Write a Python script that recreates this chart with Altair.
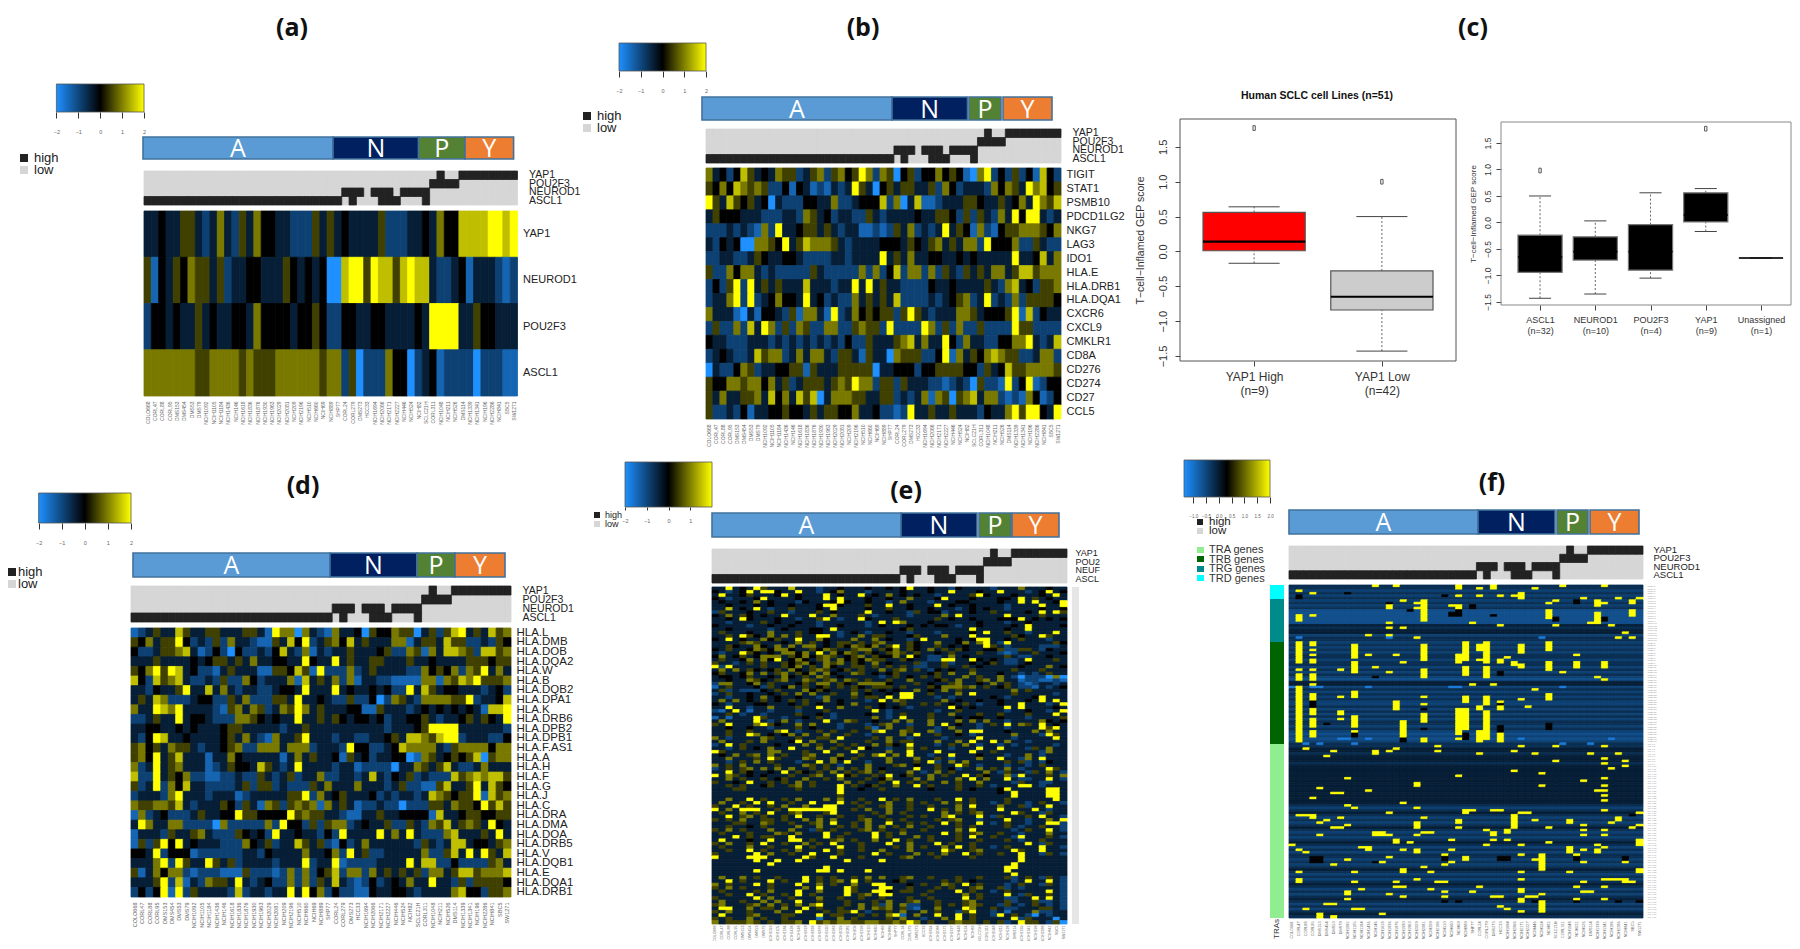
import altair as alt
import pandas as pd

alt.data_transformers.disable_max_rows()

W, H = 1784, 933
LEVEL = {'0': -2.0, '1': -1.4, 'b': -1.1, '2': -0.9, 'a': -0.65, '3': -0.42, '4': 0.0,
         '5': 0.5, '6': 0.95, '7': 1.5, '8': 2.0}

SAMPLES = ["COLO668","CORL47","CORL88","CORL95","DMS153","DMS454","DMS53","DMS79","NCIH1092","NCIH1105",
           "NCIH1184","NCIH1436","NCIH146","NCIH1618","NCIH1836","NCIH1876","NCIH1930","NCIH1963","NCIH2029","NCIH2081",
           "NCIH209","NCIH2196","NCIH510","NCIH660","NCIH69","NCIH889","SHP77","CORL24","CORL279","DMS273",
           "HCC33","NCIH1694","NCIH2066","NCIH2171","NCIH2227","NCIH446","NCIH524","NCIH82","SCLC21H","CORL311",
           "NCIH1048","NCIH211","NCIH526","DMS114","NCIH1339","NCIH1341","NCIH196","NCIH2286","NCIH841","SBC5","SW1271"]

STATUS_NAMES = ["YAP1", "POU2F3", "NEUROD1", "ASCL1"]
STATUS_HIGH = {"YAP1": [40,43,44,45,46,47,48,49,50],
               "POU2F3": [39,40,41,42],
               "NEUROD1": [27,28,29,31,32,33,35,36,37,38],
               "ASCL1": list(range(0,27)) + [28,32,33,34,38]}

A_NAMES = ["YAP1", "NEUROD1", "POU2F3", "ASCL1"]
A_ROWS = [
 "3343355323 6325364433 2225353433 3352223343 6447777887 8",
 "5143546553 5233443335 4343400788 5877578773 2234133321 2",
 "2443433534 3344364444 3445422443 3443333438 8883354433 3",
 "6666666556 6665655566 6666566250 2226440234 1222202221 11",
]

B_NAMES = ["TIGIT","STAT1","PSMB10","PDCD1LG2","NKG7","LAG3","IDO1","HLA.E","HLA.DRB1","HLA.DQA1","CXCR6","CXCL9",
           "CMKLR1","CD8A","CD276","CD274","CD27","CCL5"]
B_ROWS = [
 "6342475343 6552356256 4586265045 2446454106 8242524174 2",
 "5464765652 2414312132 3853045355 3352642333 2646538674 5",
 "8537545340 3222443362 2344472603 7112 33355 4335346386 577",
 "3544433322 2332653423 3225323333 4335 54252 5326384883 2 3 6",
 "2223232162 8334553532 3311212 5 3 6 2 3 2 3 8 3 5 4 1 6 2 1 4 5 5 6 6 6 5 4 6 7 6 6",
 "3243400665 4835766653 2333344435 4356353 6 6 2 8 4 4 4 6 2 2 5 3 2 2 0 0 5 3 6 5 6 5",
 "2233223 5 4 3 3 4 4 3 2 2 2 2 3 3 2 3 3 3 3 8 3 5 3 6 3 3 4 4 3 3 4 3 4 3 3 3 3 3 8 3 3 4 7 3 6 7 3 4 3 3",
 "5 2 2 6 4 6 6 3 2 3 2 2 2 2 2 5 3 2 2 2 2 2 6 2 6 2 4 7 2 6 6 2 6 2 5 3 2 5 3 5 3 6 6 3 5 7 7 5 6 6 6 7",
 "2 4 2 5 8 2 8 3 5 3 5 3 3 3 7 3 3 3 2 3 3 8 3 8 3 5 3 3 2 2 2 2 4 3 3 4 3 3 3 3 5 3 2 6 7 3 4 2 5 5 6",
 "2 3 3 6 8 2 8 2 3 4 6 4 4 3 8 3 4 2 3 2 2 6 3 5 3 5 3 7 2 2 2 2 3 2 3 4 5 6 2 3 8 2 3 2 6 2 5 5 5 5 4",
 "6 3 3 3 1 0 3 1 4 4 3 2 5 1 6 6 3 1 8 2 3 6 4 5 4 5 5 2 5 8 5 3 2 3 3 3 6 6 5 3 4 4 4 5 8 1 7 2 4 3 3",
 "2 5 2 2 6 2 7 3 8 6 2 5 2 6 5 2 2 6 6 2 2 5 6 5 5 2 8 2 2 2 2 8 6 2 5 2 6 2 2 5 2 2 2 2 8 5 5 2 2 2 2",
 "4 3 3 2 2 2 3 3 3 2 3 2 3 2 3 2 3 2 3 2 4 2 2 5 3 3 3 5 6 7 3 6 3 3 8 4 2 6 3 3 2 2 4 4 6 6 8 3 2 3 7",
 "2 3 4 3 2 2 3 7 5 6 6 2 3 6 3 6 6 3 2 5 5 3 1 5 3 3 0 6 5 5 5 2 2 4 8 1 6 3 5 4 6 7 6 5 5 2 2 3 6 6 2",
 "0 3 2 2 4 6 5 2 3 3 4 4 5 5 1 5 3 3 3 5 5 5 5 5 0 3 3 4 4 4 2 4 4 5 5 5 5 4 4 2 5 3 4 7 5 5 6 6 6 6 5",
 "5 4 4 6 6 5 6 6 4 6 3 5 2 3 5 5 5 3 5 6 5 8 6 6 2 5 5 2 5 3 3 3 2 2 1 2 3 2 0 5 2 2 1 8 2 4 8 1 2 4 4",
 "5 3 6 3 3 5 5 6 3 7 4 6 3 7 5 7 0 3 6 6 6 5 5 3 3 5 5 2 3 2 3 6 1 6 5 0 5 6 7 3 6 6 2 1 2 1 6 4 1 2 4",
 "5 2 2 3 2 4 1 3 3 4 4 5 4 4 3 5 3 5 5 4 4 6 3 3 4 2 2 1 2 8 3 3 5 3 3 5 3 3 3 2 4 3 3 6 8 5 8 8 4 3 8",
]

D_NAMES = ["HLA.L","HLA.DMB","HLA.DOB","HLA.DQA2","HLA.W","HLA.B","HLA.DQB2","HLA.DPA1","HLA.K","HLA.DRB6","HLA.DPB2",
           "HLA.DPB1","HLA.F.AS1","HLA.A","HLA.H","HLA.F","HLA.G","HLA.J","HLA.C","HLA.DRA","HLA.DMA","HLA.DOA",
           "HLA.DRB5","HLA.V","HLA.DQB1","HLA.E","HLA.DQA1","HLA.DRB1"]
D_ROWS = [
 "1235337533 5533355318 6606321633 4054465503 5257835375 6",
 "5463558423 2526332115 3748235647 3533366135 5375522325 4",
 "4223556731 2420422324 7326132335 3334522651 6377652775 6",
 "3335333343 4553536334 4338433835 3355333533 4333355545 5",
 "5468587342 2135333115 5475182226 2353333226 4546265836 3",
 "7427567322 3252264233 3617353626 1332211116 6165768555 6",
 "3324335833 7363233223 4438333834 3343422837 5344333234 2",
 "3537622234 4225362225 5383343225 2240265326 6665582334 7",
 "6338768333 3215636523 6586353334 4115333234 3434343177 8",
 "2235338344 3222665434 3383353543 4434233445 3233453543 8",
 "3344334343 3345533333 2335333333 3333233345 8888333333 2",
 "3248733433 3345363216 3358333233 2233453776 5788233322 4",
 "5645365532 3345622666 3666233328 4422347666 6325666646 6",
 "5648357333 1336433333 1363533415 3423344016 5345457056 6",
 "6238356333 1235443 7 5 3 2 3 8 3 3 3 3 2 3 3 1 2 2 2 2 0 3 3 6 5 3 5 7 3 2 2 3 6",
 "7228354622 1122 3 2 2 5 3 2 3 5 2 3 3 6 2 2 3 3 2 3 7 3 2 4 3 5 2 3 2 2 2 7 5 6 7 6 7 7 5",
 "5238264733 2222 3 5 2 5 5 2 3 2 2 2 5 3 6 3 3 3 6 3 3 3 2 3 5 2 2 1 1 5 7 3 3 5 8 3 7 5 4 7 5",
 "2333268333 2333 1 2 3 3 3 3 3 5 5 8 2 6 3 4 5 3 3 3 4 2 3 2 3 3 2 3 7 6 5 4 5 5 8 1 7 5 6",
 "6556657 3 2 3 3 3 5 4 2 5 3 1 6 5 2 5 6 5 6 1 6 3 5 3 1 2 2 3 2 2 0 2 2 2 5 5 3 6 5 5 4 8 5 7 5 6",
 "1623 4 2 2 2 3 5 3 3 4 4 8 5 5 4 4 4 4 8 5 6 5 5 3 3 2 1 1 3 3 5 3 3 4 4 4 4 1 7 3 3 4 5 5 4 4 5 5 8",
 "3 8 6 3 3 6 6 2 2 2 2 0 6 2 2 2 2 2 6 2 8 4 4 2 5 2 5 6 6 2 3 4 3 3 5 2 2 5 3 2 6 5 7 3 5 6 5 3 8 4",
 "1 3 3 3 2 5 3 3 5 6 3 2 2 2 5 4 3 4 2 8 3 3 4 3 3 2 4 2 8 3 3 3 3 8 3 6 3 8 3 2 2 2 6 7 3 3 3 5 3 8 3",
 "1 5 2 5 8 4 8 3 4 3 3 3 2 2 2 6 4 3 5 2 3 3 7 5 3 5 2 1 4 2 3 6 3 3 3 3 3 3 2 5 3 2 3 7 7 3 4 4 3 5 6",
 "4 4 3 8 2 4 4 4 1 2 2 2 2 2 2 3 3 2 4 3 3 3 3 6 3 3 4 6 2 8 3 5 2 2 3 3 3 3 3 6 2 2 5 7 3 8 3 8 5 3 7",
 "3 3 3 6 8 2 8 5 3 3 8 5 3 5 2 3 3 3 3 2 3 3 3 8 2 3 3 8 1 2 2 2 2 3 3 3 3 8 3 7 7 2 2 4 2 2 2 2 5 6 3",
 "5 1 3 6 4 6 6 2 1 2 2 2 1 1 1 5 2 2 2 1 2 6 2 6 2 4 5 7 2 6 6 2 6 3 5 3 5 3 5 2 6 6 3 5 7 7 5 6 6 6 7",
 "3 3 3 5 8 2 7 1 3 2 6 5 5 3 8 3 2 3 4 2 2 6 2 6 2 5 3 7 3 2 1 2 4 2 3 4 3 6 3 3 8 3 3 2 5 2 5 5 5 5 4",
 "2 4 2 4 8 1 8 2 5 3 3 3 3 2 7 2 3 3 2 3 3 8 3 8 4 6 2 4 2 2 1 1 4 3 3 4 4 3 2 3 3 3 3 6 7 4 4 2 5 5 6",
]

E_ROWS = [
 "3383438533 3733323343 3343343483 3433243333 2333633343 3",
 "4323483884 3383323463 3323333433 3433833343 3833323483 4",
 "3833453334 8343338343 3834363434 3323333584 3334333438 3",
 "4323334833 3343338383 3343343363 3348333433 3443835343 3",
 "3433436343 3324333484 3343323633 3233344333 3433838334 8",
 "3343334343 3433348843 3353383343 3383433433 3323333833 8",
 "3373438323 3533343833 3343353343 3433323434 3323333433 4",
 "2533343353 3233353433 3383343325 3442333433 5333343838 5",
 "4363543433 8333833633 3532333323 3336383333 3383333533 3",
 "3343843334 3323358323 3843335333 3353433433 3444834343 4",
 "3323333534 3343323333 3323838633 3433333343 3323343333 3",
 "4333323343 3433323343 3323433343 4344323343 3334383333 4",
 "3343333323 4333443833 3333333453 3333333 8 3 3 3 3 4 3 3 8 3 3 3 3 3",
 "3533343363 3353443323 4323343323 3323333438 3353323338 3",
 "3353854363 6353388323 3635533345 3336333833 3335433853",
 "4383433645 3383364333 6336343323 8333343488 3343533323 3",
 "3333565333 4363534355 3535633354 3363346368 3283333335 4",
 "3354336436 3636634354 6546358354 3353434338 5323333222 3",
 "4353346546 6433546533 5663546354 3635354334 4522553243 3",
 "3233854343 6646383646 5354356535 3343533353 3212335333 4",
 "4634534666 3546456534 5635446384 3223634333 3353223343 3",
 "3533463648 3464356364 5465533543 3228833843 4322383335 3",
 "5332353533 5456436563 5436343335 2335233434 5322343333 3",
 "8283333533 5463536433 5535353532 2335335343 3333433363 4",
 "3636354345 3643565345 3533635635 3243433533 3335333533 3",
 "4533463635 6354636433 6534345333 3453633633 3433232353 3",
 "3443453343 6435365343 3333235343 5353336353 3632022206 0",
 "3343365435 6336535636 5353353363 3345363356 3633122112 1",
 "2663346353 3345366354 3666643335 3433563343 6353212332 3",
 "1353334253 4635345353 5435553533 3546665635 3453221323 4",
 "3523222435 3336454333 5353434336 3436353333 3336353333 3",
 "2353343343 5363633533 6343343883 3533363833 3335333332",
 "3323343634 3343326333 5355383883 3323233333 4323334833 3",
 "3636343534 3535336343 3323836533 3336343343 3433343838 3",
 "4323334433 3435343343 6333433533 5353435323 3433833323 8",
 "3383323363 3353383363 3353434323 3333843433 3383833334 3",
 "2138313323 3323335333 3338323333 3323353333 3323343323 8",
 "3353233233 3353343233 3343323533 3533633353 3533353338 3",
 "1313338533 2334353233 3336323833 3533343443 3433323333 5",
 "3633338323 6323338336 5334336363 3633363636 3323333643 4",
 "5383336854 3363633323 3323563323 3638343323 5383653834 3",
 "3343343323 3353433323 3351363353 3323633323 3323333858 3",
 "3353353336 8323353533 5336833653 3623363883 3343336363 3",
 "3353386343 4636336335 3323333638 3353343233 3336333285 3",
 "6323333653 3353355383 3335363323 3332333383 3332333338 3",
 "3633353633 3483633633 3353363553 3363363833 8363323333 3",
 "2383533334 3336353353 5336354383 3323536323 3232333332 3",
 "3323534363 3833363535 3843323363 5333233383 3833325363 3",
 "8533333366 3335338333 8333363383 3383333833 5333333263",
 "3436356363 5335633363 3536836383 3233833343 3323363233 3",
 "3363335385 3336533643 5333363336 3353233363 3833263833 3",
 "3323536353 3323383638 3323363335 3823636333 3353523243 3",
 "6353633335 3336535323 3363335634 3353385323 3323323533 3",
 "2353563636 3633535363 5363433338 3353423363 5363233385 3",
 "3383543343 8354353635 3563533363 2363533336 3253325363 2",
 "8365343433 3533563384 5335383453 3635338354 3362833353 6",
 "3363533534 5336335363 3353463336 3633363836 3383223383 2",
 "5334383353 5363533336 3533538353 5336353363 3332533223 3",
 "3353533453 3563533383 5345336338 3533353353 2333883233 3",
 "3335533333 3353333383 3433533333 3433353433 3483333388 3",
 "3333333333 3333333383 3333333333 3333333333 3438333388 3",
 "3333333333 3333333353 3333333333 3333333333 3338333388 3",
 "3363383533 5363336363 3533835363 3353383533 3353333338 3",
 "3633538383 3533833383 5353363353 5336353533 2353323533 2",
 "5338353353 6336338833 3533563353 3533363833 3633523383 3",
 "8363888335 3888888833 5363363353 3835363533 3833338323 3",
 "3533635383 3563335833 3335363533 3336353563 3338533253 3",
 "3383563533 5383353353 3533533353 5336833383 2533353833 2",
 "5353633553 5336363633 3563353533 3353563323 3383323363 8",
 "3335533653 3533563833 5363383353 5338353383 2353323388 2",
 "3353343533 3363363353 5363635363 3533353533 3353233533 2",
 "5363533363 3633253533 3563533533 5333363833 3332353383 2",
 "3533353336 5363338335 3338353633 3338353563 3533233363 3",
 "3338353553 3833338353 3338353336 3533353833 5332833353 2",
 "3833343383 3883533563 5336338353 3533353353 3353233533 3",
 "5363353833 5336353833 3533383363 3383533533 3333383253 3",
 "3533363353 3383533383 3533335363 5336383533 2353333833 2",
 "3353383533 5363338353 3533633363 3338533563 3338533833 3",
 "5333338363 3533833353 3338353336 3536338353 3533833253 2",
 "8333388833 3338533833 3533333563 3353333533 3333833333 3",
 "3333338338 3383333338 3333833333 3333333333 3333833333 3",
 "3333333383 3333333333 3333333333 3333333333 3338333333 3",
 "3333333333 3333338333 3333333333 3333333333 3388333333 3",
 "3333338333 3333388383 3383333333 3333333333 3383333333 3",
 "3333333333 3333333333 3333333333 3333333333 3338333333 3",
 "3633635335 3338353533 5363633563 3533353353 3352353253 2",
 "3383533383 5338353563 8353334533 3335353433 3332383383 2",
 "6353338353 3383363533 6338833343 5336538353 3323533253 2",
 "5363533353 3336383338 5333883353 3353533563 3523233333 2",
 "3533335363 3383363338 5338843553 3533383533 2353333383 2",
 "3353383533 5383533338 3563883333 5333336353 3383253353 2",
 "5333338363 3533363353 3533533353 3533338353 3322338383 2",
 "3633533636 3383353335 3335363356 3353335633 3352335223 2",
 "5633356363 5363683335 3635263622 3353535653 3253235323 2",
 "3883363553 6338353353 3636563521 3363338633 5322333553 2",
 "5363353336 3383335355 8323353633 6353325833 2313336223 3",
 "3833356333 5533383553 3535368136 3383383533 2835320323 3",
 "5353363533 5333313363 5333353633 2336383533 3338253330 3",
 "6355565353 5563856566 5566556586 3533565535 3523855325 0",
]

F_BG = ("aa2a2a2a2a" "bbbbbb3a33" "2a" "a2a2a2aa2aa2a2a2b3" "3" "2a2a2a22a2a2a2aa2a2" "b2b" "2a"
        "a33a333a3333333333333333" "a2a3a2a2a3a2a2a3a2a2a" "a2a2a3a2a2a3a2a2a3a2a2a3a")
F_NAMES = [f"TRDV{i+1}" for i in range(6)] + [f"TRGV{i+1}" for i in range(17)] + \
          [f"TRBV{i+1}" for i in range(41)] + [f"TRAV{i+1}" for i in range(71)]
# (column, first row, last row)
F_BARS = [
 (12,0,0),(15,0,0),(24,0,1),(29,0,1),(39,0,0),(45,0,0),(1,2,2),(3,3,3),(24,4,4),(27,4,4),(30,4,4),(33,3,5),(32,4,4),(27,1,1),
 (35,1,1),(19,6,14),(44,6,8),(44,11,15),(14,8,9),(14,15,15),(14,17,17),(14,20,21),(37,10,13),(49,6,7),(49,10,12),(1,12,14),(3,12,12),
 (16,6,6),(18,7,7),(18,9,9),(23,8,8),(24,8,9),(38,6,6),(37,7,7),(45,7,7),(47,5,5),(50,5,5),(42,5,5),(26,15,15),(30,16,16),(38,16,16),
 (46,16,16),(16,17,17),(43,15,15),(48,19,19),(11,20,20),(47,21,21),(18,21,21),(49,21,21),
 (1,23,31),(1,34,34),(1,36,38),(1,41,63),(3,23,24),(3,26,26),(3,28,28),(3,30,31),(3,34,34),(3,36,38),(3,40,40),(3,44,46),(3,50,52),(3,54,57),(3,59,61),
 (9,24,29),(9,31,35),(9,43,45),(9,53,57),(9,59,59),(7,34,34),(7,45,45),(7,51,52),(7,54,54),(19,24,30),(19,34,37),(19,45,45),(19,48,48),(19,52,55),(19,62,63),
 (25,23,30),(25,33,36),(25,45,47),(25,50,58),(28,23,31),(28,33,37),(28,45,48),(28,51,62),(27,24,26),(27,30,30),(27,49,50),(27,59,63),(30,30,31),(30,47,50),(30,59,63),
 (32,31,32),(33,24,27),(33,32,33),(37,23,26),(37,31,34),(37,44,46),(41,31,33),(45,31,33),(45,38,38),(16,55,61),(15,28,28),(15,47,50),(11,28,28),(16,31,31),(31,29,29),(41,28,28),
 (24,28,31),(24,50,60),(24,62,62),(26,40,40),(29,40,40),(44,37,37),(39,35,35),(12,33,33),(14,35,35),(33,46,46),(35,42,42),(34,49,49),
 (2,66,66),(12,67,68),(6,67,67),(5,69,69),(14,67,67),(15,66,66),(21,65,65),(21,67,67),(27,68,68),(32,67,67),(33,65,65),(35,68,68),(38,65,65),(38,71,71),(43,68,68),
 (45,65,65),(45,70,70),(45,72,72),(47,68,68),(48,71,71),(48,73,73),(46,74,74),(32,75,75),(36,76,76),(24,77,77),(8,78,78),(45,78,78),(42,79,79),(18,80,81),(36,81,81),(45,81,81),
 (4,82,82),(11,83,83),(44,83,83),(45,83,83),(6,84,84),(7,84,84),(45,85,85),(3,86,86),(45,87,87),(16,88,88),(8,89,89),(9,90,90),(18,90,90),(45,91,91),(29,91,91),(30,91,91),
 (14,92,92),(25,91,92),(26,91,91),(33,92,92),(34,92,92),(50,92,92),(1,93,93),(2,93,93),(3,93,94),(19,94,94),(32,93,95),(4,96,96),(5,95,95),(35,95,95),(40,95,96),(47,94,95),
 (18,96,97),(24,95,96),(46,96,96),(32,96,98),(7,94,94),(8,97,97),(6,98,98),(7,98,98),(18,98,98),(24,98,98),(37,98,98),(42,97,97),(49,98,98),(50,97,97),(45,99,99),(42,99,99),
 (31,99,100),(12,100,101),(13,100,101),(4,101,101),(14,101,101),(18,101,101),(19,100,100),(20,100,100),(29,100,101),(28,99,99),(42,101,101),(45,101,101),(50,104,105),(37,104,104),
 (31,103,103),(15,103,104),(17,104,104),(23,103,103),(29,103,103),(33,105,105),(0,105,105),(10,106,106),(11,106,107),(28,105,105),(44,105,105),(40,106,108),(50,103,103),(45,106,106),
 (1,107,107),(2,108,108),(18,107,108),(16,107,107),(14,110,110),(22,109,109),(23,107,107),(33,109,109),(36,109,109),(41,109,109),(42,107,107),(44,107,108),(8,111,111),(35,111,111),
 (36,110,115),(6,113,113),(25,110,111),(13,112,112),(16,115,116),(19,114,114),(22,113,113),(23,112,112),(42,112,112),(48,112,112),(9,116,116),(20,116,116),(50,115,116),(1,116,116),
 (33,116,116),(40,116,116),(18,119,119),(1,119,120),(21,120,120),(22,120,120),(45,119,119),(46,119,119),(47,119,119),(48,119,119),(48,120,120),(49,120,120),(9,120,120),(15,120,120),
 (33,119,119),(42,120,120),(15,122,122),(16,122,122),(10,123,123),(27,122,122),(41,122,122),(45,122,122),(8,124,125),(22,124,124),(20,123,123),(33,123,124),(42,124,124),(43,124,124),
 (14,125,125),(36,125,125),(16,126,126),(22,126,126),(26,124,124),(29,126,126),(30,126,126),(34,126,126),(35,126,126),(8,127,127),(33,127,128),(41,127,127),(45,127,127),(5,129,129),
 (6,129,129),(36,128,132),(2,131,131),(9,131,131),(10,131,131),(31,131,131),(4,133,134),(6,134,134),(33,132,132),(13,133,133),(30,130,130),
]
F_DARK = [
 (1,4,5),(8,3,3),(22,4,4),(14,7,7),(26,8,9),(24,10,12),(17,10,10),(23,11,12),(29,12,12),(38,13,14),(41,6,7),(45,13,14),
 (19,58,58),(19,50,50),(30,35,36),(30,48,48),(30,57,59),(25,60,62),(16,62,63),(9,60,61),(3,47,49),(37,56,58),(12,37,37),(5,56,56),
 (4,111,111),(22,110,111),(30,110,111),(31,110,111),(41,110,111),(48,110,111),(49,93,93),(3,110,112),(4,110,112),(12,112,112),(35,128,128),
 (22,128,128),(24,128,128),(41,128,128),(47,128,128),(50,128,128),
]
F_BLUE = [(0,41,41),(3,41,41),(4,41,41),(23,41,41),(24,41,41),(39,41,41),(11,41,41),(7,62,62),(8,62,62),(11,62,62),(33,62,62),(46,62,62),
          (2,64,64),(4,64,64),(9,64,64),(39,64,64),(43,64,64),(1,21,21),(14,21,21),(36,21,21)]

C1 = dict(pos=[1, 2], q1=[0.01, -0.84], q3=[0.56, -0.28], med=[0.14, -0.65], lo=[-0.17, -1.43], hi=[0.64, 0.50],
          fill=["#FF0000", "#CCCCCC"])
C1_OUT = dict(pos=[1, 2], v=[1.77, 1.0])
C1_LABELS = [["YAP1 High", "(n=9)"], ["YAP1 Low", "(n=42)"]]
C2 = dict(pos=[1, 2, 3, 4, 5], q1=[-0.94, -0.71, -0.90, 0.01, -0.67], q3=[-0.24, -0.27, -0.04, 0.56, -0.67],
          med=[-0.65, -0.55, -0.55, 0.14, -0.67], lo=[-1.43, -1.35, -1.05, -0.17, -0.67], hi=[0.50, 0.03, 0.56, 0.64, -0.67],
          fill=["#000000"] * 5)
C2_OUT = dict(pos=[1, 4], v=[0.98, 1.77])
C2_LABELS = [["ASCL1", "(n=32)"], ["NEUROD1", "(n=10)"], ["POU2F3", "(n=4)"], ["YAP1", "(n=9)"], ["Unassigned", "(n=1)"]]

SANS = "Liberation Sans"
PX = alt.Scale(domain=[0, 1800], range=[-8, 1792], nice=False, zero=False)
PY = alt.Scale(domain=[0, 949], range=[-8, 941], nice=False, zero=False)
CS = alt.Scale(domain=[-2, 0, 2], range=["#1E90FF", "#000000", "#FFFF00"], interpolate="rgb", clamp=True)
layers = []


def identity(values):
    vals = sorted(set(values))
    return alt.Scale(domain=vals, range=vals)


def boxes(items, **mark):
    df = pd.DataFrame(items, columns=["x", "x2", "y", "y2", "fill"])
    return alt.Chart(df).mark_rect(**mark).encode(
        x=alt.X("x:Q", scale=PX, axis=None), x2="x2:Q",
        y=alt.Y("y:Q", scale=PY, axis=None), y2="y2:Q",
        fill=alt.Fill("fill:N", scale=identity(df.fill), legend=None))


def texts(items, **mark):
    df = pd.DataFrame(items, columns=["x", "y", "t"])
    return alt.Chart(df).mark_text(**mark).encode(
        x=alt.X("x:Q", scale=PX, axis=None), y=alt.Y("y:Q", scale=PY, axis=None), text="t:N")


def parse(rows, names):
    recs = []
    for r, name in zip(rows, names):
        s = r.replace(" ", "")
        s = (s + "3" * 51)[:51]
        for c, ch in enumerate(s):
            recs.append((SAMPLES[c], name, LEVEL[ch]))
    return pd.DataFrame(recs, columns=["s", "r", "v"])


def heat(df, names, x0, x1, y0, y1, lab=None, lab_size=11, samp_size=5, samp_pad=5, lab_pad=5, lab_color="#222"):
    xaxis = alt.Axis(orient="bottom", offset=y1 - 8 - H, title=None, ticks=False, domain=False, labelAngle=270,
                     labelFontSize=samp_size, labelColor="#666", labelPadding=samp_pad, labelFont=SANS,
                     labelOverlap=False, labelBound=False, labelFlush=False, grid=False)
    enc_y = dict(scale=alt.Scale(domain=names, range=[y0 - 8, y1 - 8], paddingInner=0, paddingOuter=0))
    if lab:
        enc_y["axis"] = alt.Axis(orient="right", offset=x1 - 8 - W, title=None, ticks=False, domain=False,
                         labelFontSize=lab_size, labelColor=lab_color, labelPadding=lab_pad, labelFont=SANS,
                         labelOverlap=False, labelBound=False, labelFlush=False, grid=False)
    else:
        enc_y["axis"] = None
    return alt.Chart(df).mark_rect(strokeWidth=0.8).encode(
        x=alt.X("s:N", axis=xaxis,
                scale=alt.Scale(domain=SAMPLES, range=[x0 - 8, x1 - 8], paddingInner=0, paddingOuter=0)),
        y=alt.Y("r:N", **enc_y),
        fill=alt.Fill("v:Q", scale=CS, legend=None),
        stroke=alt.Stroke("v:Q", scale=CS, legend=None))


def status(x0, x1, y0, y1, names, size=10.5, pad=11):
    recs = []
    for n, real in zip(names, STATUS_NAMES):
        for c, s in enumerate(SAMPLES):
            recs.append((s, n, "high" if c in STATUS_HIGH[real] else "low"))
    df = pd.DataFrame(recs, columns=["s", "r", "f"])
    # low first, so the dark cells are drawn on top of the grey
    df = df.sort_values("f", ascending=False)
    sc = alt.Scale(domain=["high", "low"], range=["#222222", "#D6D6D6"])
    yaxis = alt.Axis(orient="right", offset=x1 - 8 - W, title=None, ticks=False, domain=False, labelFontSize=size,
                     labelColor="#222", labelPadding=pad, labelFont=SANS, labelOverlap=False, labelBound=False,
                     labelFlush=False, grid=False)
    return alt.Chart(df).mark_rect(strokeWidth=0.8).encode(
        x=alt.X("s:N", axis=None,
                scale=alt.Scale(domain=SAMPLES, range=[x0 - 8, x1 - 8], paddingInner=0, paddingOuter=0)),
        y=alt.Y("r:N", axis=yaxis,
                scale=alt.Scale(domain=names, range=[y0 - 8, y1 - 8], paddingInner=0, paddingOuter=0)),
        fill=alt.Fill("f:N", scale=sc, legend=None), stroke=alt.Stroke("f:N", scale=sc, legend=None))


def anno(edges, y0, y1, size=25):
    cols = ["#5B9BD5", "#002060", "#548235", "#ED7D31"]
    items = [(a, b, y0, y1, c) for (a, b), c in zip(edges, cols)]
    layers.append(boxes(items, stroke="#41719C", strokeWidth=1.6))
    layers.append(texts([((a + b) / 2, (y0 + y1) / 2 + 1, t) for (a, b), t in zip(edges, "ANPY")],
                        font="Open Sans", fontSize=size, color="white", align="center", baseline="middle"))


def colorbar(x0, x1, y0, y1, ticks, dom=(-2, 2), pad=11, fmt="d", tick=6, lab=5.5):
    grad = alt.LinearGradient(gradient="linear", x1=0, x2=1, y1=0, y2=0, stops=[
        alt.GradientStop(color="#1E90FF", offset=0), alt.GradientStop(color="#000000", offset=0.5),
        alt.GradientStop(color="#FFFF00", offset=1)])
    df = pd.DataFrame({"a": [dom[0]], "b": [dom[1]], "y": [y0], "y2": [y1]})
    axis = alt.Axis(orient="bottom", offset=y1 - 8 - H, values=ticks, title=None, domain=False, tickSize=tick,
                    tickColor="#333", labelFontSize=lab, labelColor="#666", labelPadding=pad, format=fmt,
                    labelFlush=False, labelBound=False, grid=False, labelFont=SANS)
    layers.append(alt.Chart(df).mark_rect(fill=grad, stroke="#555555", strokeWidth=0.8).encode(
        x=alt.X("a:Q", axis=axis, scale=alt.Scale(domain=list(dom), range=[x0 - 8, x1 - 8], nice=False, zero=False)),
        x2="b:Q", y=alt.Y("y:Q", scale=PY, axis=None), y2="y2:Q"))


def legend(x, yh, yl, size, tx, font=13):
    layers.append(boxes([(x, x + size, yh, yh + size, "#222222"), (x, x + size, yl, yl + size, "#D6D6D6")]))
    layers.append(texts([(tx, yh + size / 2, "high"), (tx, yl + size / 2, "low")], font=SANS, fontSize=font,
                        color="#222", align="left", baseline="middle"))


def boxplot(d, out, labels, xdom, px0, px1, ydom, py0, py1, lab_size, tick_size, title_size, title_pad, stroke, median_w, lh, lab_pad=4):
    xs = alt.Scale(domain=list(xdom), range=[px0 - 8, px1 - 8], nice=False, zero=False)
    ys = alt.Scale(domain=list(ydom), range=[py1 - 8, py0 - 8], nice=False, zero=False)
    df = pd.DataFrame(d)
    df["l"] = df.pos - 0.4
    df["r"] = df.pos + 0.4
    df["cl"] = df.pos - 0.2
    df["cr"] = df.pos + 0.2
    expr = "[" + ",".join("['%s','%s']" % tuple(l) for l in labels) + "][datum.value-1]"
    xaxis = alt.Axis(orient="bottom", offset=py1 - 8 - H, values=list(d["pos"]), labelExpr=expr, title=None,
                     tickSize=5, tickColor="#444", domain=False, labelFontSize=lab_size, labelColor="#333",
                     labelPadding=5, labelFont=SANS, grid=False, labelLineHeight=lh, labelOverlap=False,
                     labelBound=False, labelFlush=False)
    yaxis = alt.Axis(orient="left", offset=-(px0 - 8), values=[-1.5, -1, -0.5, 0, 0.5, 1, 1.5], format=".1f",
                     labelAngle=270, labelAlign="center", labelBaseline="bottom", labelFontSize=tick_size,
                     labelColor="#333", tickSize=5, tickColor="#444", domain=False, grid=False, labelFont=SANS,
                     title="T\u2212cell\u2212Inflamed GEP score", titleFontSize=title_size, titleFontWeight="normal",
                     titleColor="#333", titleFont=SANS, titlePadding=title_pad, labelPadding=lab_pad,
                     labelOverlap=False, labelBound=False, labelFlush=False)
    X = lambda f, a=None: alt.X(f, scale=xs, axis=a)
    Y = lambda f, a=None: alt.Y(f, scale=ys, axis=a)
    base = alt.Chart(df)
    layers.append(base.mark_rule(strokeDash=[2, 2], color="#555", strokeWidth=0.9).encode(x=X("pos:Q"), y=Y("lo:Q"), y2="q1:Q"))
    layers.append(base.mark_rule(strokeDash=[2, 2], color="#555", strokeWidth=0.9).encode(x=X("pos:Q"), y=Y("q3:Q"), y2="hi:Q"))
    layers.append(base.mark_rule(color="#444", strokeWidth=1).encode(x=X("cl:Q"), x2="cr:Q", y=Y("lo:Q")))
    layers.append(base.mark_rule(color="#444", strokeWidth=1).encode(x=X("cl:Q"), x2="cr:Q", y=Y("hi:Q")))
    layers.append(base.mark_rect(stroke=stroke, strokeWidth=1.2).encode(
        x=X("l:Q", xaxis), x2="r:Q", y=Y("q1:Q", yaxis), y2="q3:Q",
        fill=alt.Fill("fill:N", scale=identity(d["fill"]), legend=None)))
    layers.append(base.mark_rule(color="#000", strokeWidth=median_w).encode(x=X("l:Q"), x2="r:Q", y=Y("med:Q")))
    layers.append(alt.Chart(pd.DataFrame(out)).mark_point(
        shape="M-0.5,-1H0.5V1H-0.5Z", size=22, filled=False, color="#111", strokeWidth=1).encode(x=X("pos:Q"), y=Y("v:Q")))


# ---- heat map panels ----
layers.append(heat(parse(A_ROWS, A_NAMES), A_NAMES, 144, 517.5, 211, 396, lab=True, lab_size=11))
layers.append(status(144, 517.5, 171, 205, STATUS_NAMES))
anno([(143, 333), (333, 418.6), (418.6, 465), (465, 513.6)], 137, 159)
colorbar(56.4, 144, 84, 112, [-2, -1, 0, 1, 2])
legend(20, 154, 166, 8, 34)

layers.append(heat(parse(B_ROWS, B_NAMES), B_NAMES, 706, 1061, 168, 419, lab=True, lab_size=11))
layers.append(status(706, 1061, 129, 163, STATUS_NAMES))
anno([(702, 892), (892, 967.5), (969, 1001), (1003, 1052)], 97, 120)
colorbar(619, 706, 43, 71, [-2, -1, 0, 1, 2])
legend(583, 112, 124, 8, 597)

layers.append(heat(parse(D_ROWS, D_NAMES), D_NAMES, 131, 511, 628, 897, lab=True, lab_size=11.5, samp_size=5.5))
layers.append(status(131, 511, 586, 622, STATUS_NAMES))
anno([(133, 330), (330, 417), (417, 455), (455, 505)], 553, 577)
colorbar(38.6, 131, 493, 523, [-2, -1, 0, 1, 2])
legend(8, 568, 580, 8, 18)

E_NAMES = [f"g{i}" for i in range(len(E_ROWS))]
layers.append(heat(parse(E_ROWS, E_NAMES), E_NAMES, 712, 1067, 587, 924, samp_size=3.6, samp_pad=1))
layers.append(status(712, 1067, 549, 583, ["YAP1", "POU2", "NEUF", "ASCL"], size=9, pad=8))
anno([(712, 901), (901, 977), (979, 1011), (1012, 1059)], 513, 537)
colorbar(625, 712, 462, 507, [-2, -1, 0, 1], pad=8, tick=3)
legend(594, 512, 521, 6, 605, font=9)
layers.append(boxes([(1072, 1079, 587, 924, "#E6E6E6")]))

# panel f heat map: row background plus the cells read one by one
cells = {}
bg = (F_BG + "a" * 135)[:135]
for i, name in enumerate(F_NAMES):
    for c, s in enumerate(SAMPLES):
        cells[(i, c)] = LEVEL[bg[i]]
for lst, val in ((F_BARS, 2.0), (F_DARK, 0.0), (F_BLUE, -1.7)):
    for c, a, b in lst:
        for i in range(a, b + 1):
            cells[(i, c)] = val
f_df = pd.DataFrame([(SAMPLES[c], F_NAMES[i], v) for (i, c), v in cells.items()], columns=["s", "r", "v"])
layers.append(heat(f_df, F_NAMES, 1289, 1643, 585, 918, lab=True, lab_size=2.4, samp_size=3.8, samp_pad=3, lab_pad=4, lab_color="#999"))
layers.append(status(1289, 1643, 546, 579, STATUS_NAMES, size=9.5, pad=10))
anno([(1289, 1478), (1478, 1555), (1557, 1588), (1590, 1639)], 510, 534)
colorbar(1184, 1270, 460, 497, [-1, -0.5, 0, 0.5, 1, 1.5, 2], dom=(-1.36, 2), pad=10, fmt=".1f", lab=4.5)
legend(1197, 519, 528, 6, 1209, font=11.5)
layers.append(boxes([(1197, 1204, 547, 553, "#90EE90"), (1197, 1204, 556, 562, "#006400"),
                     (1197, 1204, 566, 572, "#008B8B"), (1197, 1204, 575, 581, "#00FFFF")]))
layers.append(texts([(1209, 550, "TRA genes"), (1209, 560, "TRB genes"), (1209, 569, "TRG genes"), (1209, 579, "TRD genes")],
                    font=SANS, fontSize=11, color="#333", align="left", baseline="middle"))
layers.append(boxes([(1270, 1284, 585, 599, "#00FFFF"), (1270, 1284, 599, 642, "#008B8B"),
                     (1270, 1284, 642, 744, "#006400"), (1270, 1284, 744, 918, "#90EE90")]))
layers.append(texts([(1277, 929, "TRAs")], font=SANS, fontSize=8, color="#333", angle=270, align="center", baseline="middle"))

# ---- box plots ----
boxplot(C1, C1_OUT, C1_LABELS, (0.42, 2.58), 1180, 1456, (-1.572, 1.90), 119, 361, 12, 11, 10.5, 12, "#555", 2.2, 14, lab_pad=7)
layers.append(boxes([(1180, 1456, 119, 361, "transparent")], stroke="#555", strokeWidth=1))
boxplot(C2, C2_OUT, C2_LABELS, (0.293, 5.67), 1501, 1798, (-1.557, 1.896), 122, 305, 9, 8.5, 8, 6, "#777", 1.6, 11)
layers.append(boxes([(1501, 1791, 122, 305, "transparent")], stroke="#888", strokeWidth=1))
layers.append(texts([(1317, 96, "Human SCLC cell Lines (n=51)")], font=SANS, fontSize=10.5, fontWeight="bold",
                    color="#111", align="center", baseline="middle"))

# ---- panel letters ----
layers.append(texts([(292, 28, "(a)"), (863, 28, "(b)"), (1473, 28, "(c)"), (303, 486, "(d)"), (906, 491, "(e)"), (1492, 483, "(f)")],
                    font="Open Sans", fontWeight="bold", fontSize=25, color="#111", align="center", baseline="middle"))

chart = alt.layer(*layers).resolve_scale(x="independent", y="independent", fill="independent", stroke="independent").properties(
    width=W, height=H, padding=0, autosize=alt.AutoSizeParams(type="none"), background="white"
).configure_view(stroke=None)

chart.save("out.html", embed_options={"renderer": "svg", "actions": False})
